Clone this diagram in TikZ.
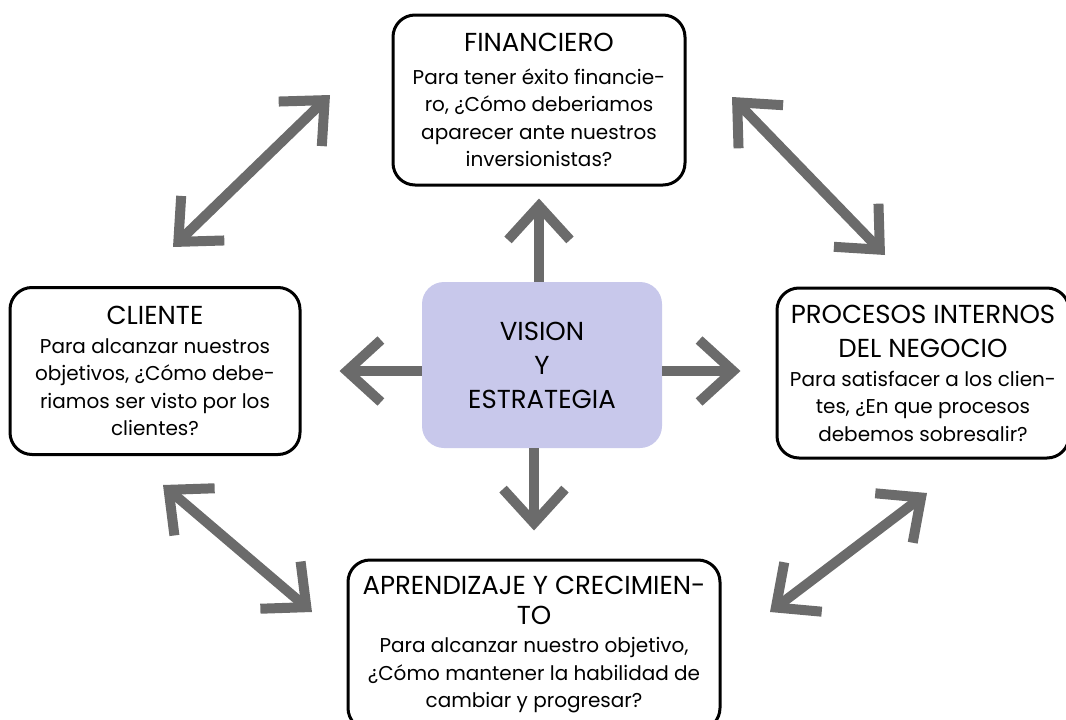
\documentclass[tikz,border=0pt]{standalone}
\usepackage{fontspec}
\setmainfont{Poppins}
\usetikzlibrary{arrows.meta}
\definecolor{arrowgray}{HTML}{6B6B6B}
\definecolor{lavender}{HTML}{C8C8EB}
\newcommand\boxtitle[1]{{\fontsize{26}{34}\selectfont #1}}
\tikzset{
  perspective/.style={draw=black, line width=3pt, rounded corners=22pt, align=center,
    font=\fontsize{20}{27.5}\selectfont, inner sep=0pt},
  vision/.style={fill=lavender, rounded corners=22pt, align=center,
    font=\fontsize{26}{34}\selectfont, minimum width=240pt, minimum height=166pt},
  bigarrow/.style={draw=arrowgray, line width=10pt,
    -{Straight Barb[length=34pt, width=62pt]}},
  bothways/.style={bigarrow, {Straight Barb[length=34pt, width=62pt]}-{Straight Barb[length=34pt, width=62pt]}}
}
\begin{document}
\begin{tikzpicture}[x=1pt, y=-1pt]
  \useasboundingbox (0,0) rectangle (1066,720);
  \clip (0,0) rectangle (1066,720);
  \node[vision] (ctr) at (542,365) {VISION\\Y\\ESTRATEGIA};
  \node[perspective, minimum width=292pt, minimum height=170pt] (fin) at (539,100)
    {\boxtitle{FINANCIERO}\\[5pt]Para tener éxito financie-\\ro, ¿Cómo deberiamos\\aparecer ante nuestros\\inversionistas?};
  \node[perspective, minimum width=290pt, minimum height=167pt] (cli) at (155,371)
    {\boxtitle{CLIENTE}\\[1pt]Para alcanzar nuestros\\objetivos, ¿Cómo debe-\\riamos ser visto por los\\clientes?};
  \node[perspective, minimum width=292pt, minimum height=170pt] (pro) at (923,373)
    {\boxtitle{PROCESOS INTERNOS}\\[7pt]\boxtitle{DEL NEGOCIO}\\[1pt]Para satisfacer a los clien-\\tes, ¿En que procesos\\debemos sobresalir?};
  \node[perspective, minimum width=372pt, minimum height=170pt] (apr) at (534,645)
    {\boxtitle{APRENDIZAJE Y CRECIMIEN-}\\[2pt]\boxtitle{TO}\\[1pt]Para alcanzar nuestro objetivo,\\¿Cómo mantener la habilidad de\\cambiar y progresar?};

  % arrows out of the center
  \draw[bigarrow, shorten >=12pt] (ctr.north -| fin.south) -- (fin.south);
  \draw[bigarrow, shorten >=28pt] (ctr.south -| apr.north) -- (apr.north);
  \draw[bigarrow, shorten >=38pt] (ctr.west |- cli.east) -- (cli.east);
  \draw[bigarrow, shorten >=35pt] (ctr.east |- cli.east) -- (cli.east -| pro.west);

  % arrows between the perspectives
  \coordinate (finW) at (330,95);
  \coordinate (cliN) at (173,247);
  \coordinate (finE) at (732,97);
  \coordinate (proN) at (885,255);
  \coordinate (cliS) at (163,485);
  \coordinate (aprW) at (312,612);
  \coordinate (proS) at (927,493);
  \coordinate (aprE) at (770,612);
  \draw[bothways] (cliN) -- (finW);
  \draw[bothways] (finE) -- (proN);
  \draw[bothways] (cliS) -- (aprW);
  \draw[bothways] (aprE) -- (proS);
\end{tikzpicture}
\end{document}
